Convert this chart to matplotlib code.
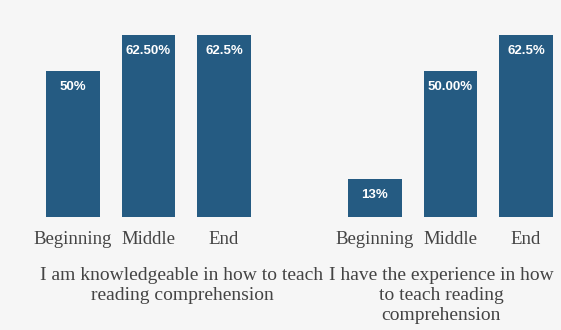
import numpy as np
import matplotlib
matplotlib.use("Agg")
import matplotlib.pyplot as plt

categories = ["Beginning", "Middle", "End"]
knowledge_vals = [50, 62.5, 62.5]
knowledge_labels = ["50%", "62.50%", "62.5%"]
experience_vals = [13, 50, 62.5]
experience_labels = ["13%", "50.00%", "62.5%"]
group_titles = ["I am knowledgeable in how to teach\nreading comprehension",
                "I have the experience in how\nto teach reading\ncomprehension"]

BAR = "#255b82"
BG = "#f6f6f6"
W, H = 561, 330
fig = plt.figure(figsize=(W / 100, H / 100), dpi=100)
fig.patch.set_facecolor(BG)
ax = fig.add_axes([0, 0, 1, 1])
ax.set_facecolor(BG)

# pixel geometry -> data: centers 75.5 px apart, baseline at y=217 px
step = 75.5
px_per_pct = 2.92
x0 = 73
ax.set_xlim(-x0 / step, (W - x0) / step)
ax.set_ylim(-(H - 217) / px_per_pct, 217 / px_per_pct)
ax.axis("off")

groups = [(0, knowledge_vals, knowledge_labels), (4, experience_vals, experience_labels)]
for start, vals, labs in groups:
    xs = start + np.arange(len(vals))
    ax.bar(xs, vals, width=0.715, color=BAR, zorder=2)
    for x, v, lab, cat in zip(xs, vals, labs, categories):
        ax.text(x, v - 16 / px_per_pct, lab, ha="center", va="center",
                color="white", fontsize=9.5, fontweight="bold",
                family="Liberation Sans", zorder=3)
        ax.text(x, -23 / px_per_pct, cat, ha="center", va="center",
                color="#444444", fontsize=13.5, family="Liberation Serif")

title_x = [(182 - x0) / step, (441 - x0) / step]
for tx, t in zip(title_x, group_titles):
    ax.text(tx, -50 / px_per_pct, t, ha="center", va="top", color="#444444",
            fontsize=14, family="Liberation Serif", linespacing=1.25)

fig.savefig("out.png", dpi=100, facecolor=fig.get_facecolor())
